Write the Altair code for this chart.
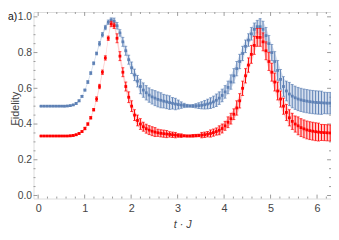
import altair as alt
import pandas as pd

# time grid (t*J), 100 samples
t = [round(0.06283 * i, 4) for i in range(1, 101)]

blue_mean = [
    0.500, 0.500, 0.500, 0.500, 0.500, 0.500, 0.500, 0.500, 0.500, 0.501,
    0.503, 0.507, 0.515, 0.530, 0.555, 0.590, 0.635, 0.685, 0.740, 0.795,
    0.850, 0.900, 0.940, 0.970, 0.982, 0.975, 0.950, 0.910, 0.860, 0.810,
    0.760, 0.715, 0.675, 0.640, 0.610, 0.590, 0.575, 0.562, 0.552, 0.545,
    0.538, 0.533, 0.528, 0.524, 0.520, 0.516, 0.512, 0.509, 0.506, 0.504,
    0.502, 0.501, 0.501, 0.502, 0.503, 0.505, 0.508, 0.512, 0.517, 0.524,
    0.533, 0.545, 0.560, 0.580, 0.605, 0.635, 0.670, 0.710, 0.750, 0.795,
    0.835, 0.870, 0.905, 0.930, 0.945, 0.945, 0.930, 0.895, 0.850, 0.800,
    0.750, 0.700, 0.650, 0.610, 0.585, 0.568, 0.556, 0.547, 0.540, 0.535,
    0.531, 0.528, 0.525, 0.523, 0.521, 0.520, 0.519, 0.518, 0.517, 0.517,
]
blue_err = [
    0.002, 0.002, 0.002, 0.002, 0.002, 0.002, 0.002, 0.002, 0.003, 0.003,
    0.003, 0.003, 0.005, 0.005, 0.005, 0.005, 0.008, 0.008, 0.008, 0.008,
    0.012, 0.012, 0.012, 0.012, 0.012, 0.018, 0.018, 0.018, 0.025, 0.025,
    0.025, 0.032, 0.032, 0.032, 0.040, 0.040, 0.040, 0.040, 0.040, 0.042,
    0.042, 0.042, 0.038, 0.038, 0.038, 0.032, 0.032, 0.025, 0.018, 0.012,
    0.008, 0.006, 0.008, 0.012, 0.016, 0.020, 0.024, 0.027, 0.030, 0.032,
    0.035, 0.035, 0.035, 0.035, 0.035, 0.040, 0.040, 0.040, 0.040, 0.040,
    0.035, 0.035, 0.035, 0.035, 0.035, 0.045, 0.045, 0.045, 0.045, 0.045,
    0.055, 0.055, 0.055, 0.055, 0.055, 0.065, 0.065, 0.065, 0.065, 0.065,
    0.065, 0.065, 0.065, 0.065, 0.065, 0.065, 0.065, 0.060, 0.060, 0.060,
]
red_mean = [
    0.333, 0.333, 0.333, 0.333, 0.333, 0.333, 0.333, 0.333, 0.333, 0.333,
    0.334, 0.336, 0.340, 0.347, 0.358, 0.375, 0.400, 0.435, 0.480, 0.540,
    0.610, 0.690, 0.770, 0.880, 0.960, 0.950, 0.880, 0.780, 0.690, 0.610,
    0.550, 0.500, 0.450, 0.420, 0.400, 0.385, 0.374, 0.366, 0.360, 0.355,
    0.351, 0.348, 0.346, 0.344, 0.342, 0.340, 0.338, 0.336, 0.335, 0.334,
    0.333, 0.333, 0.334, 0.335, 0.336, 0.338, 0.340, 0.343, 0.347, 0.352,
    0.358, 0.365, 0.375, 0.390, 0.410, 0.430, 0.455, 0.490, 0.530, 0.600,
    0.670, 0.730, 0.790, 0.840, 0.885, 0.885, 0.860, 0.810, 0.750, 0.690,
    0.635, 0.585, 0.540, 0.500, 0.465, 0.435, 0.415, 0.400, 0.390, 0.380,
    0.373, 0.367, 0.363, 0.360, 0.357, 0.355, 0.353, 0.352, 0.351, 0.350,
]
red_err = [
    0.002, 0.002, 0.002, 0.002, 0.002, 0.002, 0.002, 0.002, 0.002, 0.002,
    0.004, 0.004, 0.004, 0.004, 0.004, 0.007, 0.007, 0.007, 0.007, 0.012,
    0.012, 0.012, 0.012, 0.012, 0.015, 0.015, 0.025, 0.025, 0.025, 0.025,
    0.030, 0.030, 0.030, 0.030, 0.030, 0.025, 0.025, 0.025, 0.025, 0.025,
    0.020, 0.020, 0.020, 0.020, 0.015, 0.015, 0.015, 0.010, 0.010, 0.005,
    0.005, 0.005, 0.007, 0.007, 0.007, 0.015, 0.015, 0.015, 0.020, 0.020,
    0.020, 0.025, 0.025, 0.025, 0.030, 0.030, 0.030, 0.040, 0.040, 0.040,
    0.040, 0.040, 0.050, 0.050, 0.050, 0.050, 0.050, 0.050, 0.050, 0.050,
    0.050, 0.050, 0.045, 0.045, 0.045, 0.045, 0.045, 0.045, 0.050, 0.050,
    0.050, 0.050, 0.050, 0.050, 0.050, 0.050, 0.045, 0.045, 0.045, 0.045,
]

x_major = [0, 1, 2, 3, 4, 5, 6]
x_minor = [round(0.2 * k, 2) for k in range(0, 32) if k % 5 != 0]
y_major = [0.0, 0.2, 0.4, 0.6, 0.8, 1.0]
y_minor = [round(0.05 * k, 2) for k in range(0, 21) if k % 4 != 0]

BLUE = "#5e81b5"
BLUE_LIGHT = "#b9c9e3"
RED = "#ff0000"
RED_LIGHT = "#ffb3b3"
FRAME = "#9a9a9a"
TXT = "#444444"
FONT = "Liberation Sans"

W, H = 303, 190

xs = alt.Scale(domain=[-0.1, 6.3], nice=False, zero=False)
ys = alt.Scale(domain=[-0.017, 1.027], nice=False, zero=False)

x_axis = alt.Axis(title="t · J", values=x_major, format="d", ticks=False, domain=False,
                  grid=False, labelPadding=4, labelFontSize=11, labelColor=TXT,
                  labelFont=FONT, titleFont=FONT, titleFontSize=11, titleFontStyle="italic",
                  titleFontWeight="normal", titleColor=TXT, titlePadding=5)
y_axis = alt.Axis(title="Fidelity", values=y_major, format=".1f", ticks=False, domain=False,
                  grid=False, labelPadding=2, labelFontSize=10.5, labelColor=TXT,
                  labelFont=FONT, titleFont=FONT, titleFontSize=11, titleFontWeight="normal",
                  titleColor=TXT, titleX=-13, titleY=98)


def series_df(mean, err):
    return pd.DataFrame({
        "t": t,
        "m": mean,
        "lo": [a - b for a, b in zip(mean, err)],
        "hi": [a + b for a, b in zip(mean, err)],
    })


def series_layers(df, col, light):
    base = alt.Chart(df)
    X = alt.X("t:Q", scale=xs, axis=x_axis)
    band = base.mark_area(color=light, opacity=0.6, interpolate="monotone").encode(
        x=X, y=alt.Y("lo:Q", scale=ys, axis=y_axis), y2="hi:Q")
    bars = base.mark_rule(color=col, strokeWidth=1).encode(
        x=X, y=alt.Y("lo:Q", scale=ys, axis=y_axis), y2="hi:Q")
    cap_lo = base.mark_tick(color=col, orient="horizontal", size=3, thickness=1).encode(
        x=X, y=alt.Y("lo:Q", scale=ys, axis=y_axis))
    cap_hi = base.mark_tick(color=col, orient="horizontal", size=3, thickness=1).encode(
        x=X, y=alt.Y("hi:Q", scale=ys, axis=y_axis))
    pts = base.mark_square(color=col, size=8, opacity=1).encode(
        x=X, y=alt.Y("m:Q", scale=ys, axis=y_axis))
    return [band, bars, cap_lo, cap_hi, pts]


def xticks(vals, ln):
    d = pd.DataFrame({"v": vals})
    X = alt.X("v:Q", scale=xs, axis=x_axis)
    b = alt.Chart(d).mark_rule(color=FRAME, strokeWidth=1).encode(
        x=X, y=alt.value(H), y2=alt.value(H - ln))
    tp = alt.Chart(d).mark_rule(color=FRAME, strokeWidth=1).encode(
        x=X, y=alt.value(0), y2=alt.value(ln))
    return [b, tp]


def yticks(vals, ln):
    d = pd.DataFrame({"v": vals})
    Y = alt.Y("v:Q", scale=ys, axis=y_axis)
    l = alt.Chart(d).mark_rule(color=FRAME, strokeWidth=1).encode(
        y=Y, x=alt.value(0), x2=alt.value(ln))
    r = alt.Chart(d).mark_rule(color=FRAME, strokeWidth=1).encode(
        y=Y, x=alt.value(W), x2=alt.value(W - ln))
    return [l, r]


label = alt.Chart(pd.DataFrame({"s": ["a)"]})).mark_text(
    font=FONT, fontSize=10.5, color="#111111", align="left", baseline="middle").encode(
    text="s:N", x=alt.value(-26), y=alt.value(5))

layers = (xticks(x_major, 4) + xticks(x_minor, 2) + yticks(y_major, 4) + yticks(y_minor, 2)
          + series_layers(series_df(blue_mean, blue_err), BLUE, BLUE_LIGHT)
          + series_layers(series_df(red_mean, red_err), RED, RED_LIGHT)
          + [label])

chart = alt.layer(*layers).properties(
    width=W, height=H,
    padding={"left": 26, "top": 2, "right": 0, "bottom": 32},
    autosize=alt.AutoSizeParams(type="none"),
).configure_view(stroke=FRAME, strokeWidth=1).configure(background="white")

chart.save("out.html", embed_options={"renderer": "svg", "actions": False})
